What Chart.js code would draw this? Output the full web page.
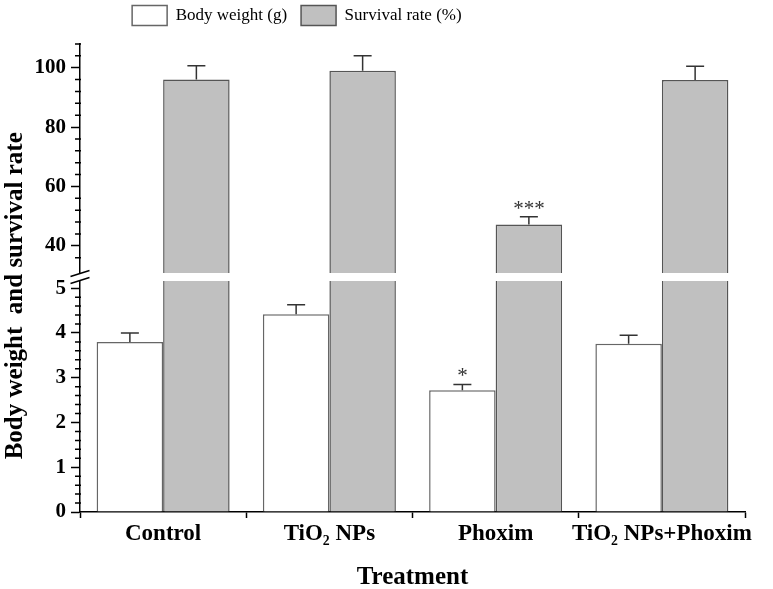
<!DOCTYPE html>
<html><head><meta charset="utf-8">
<script src="https://cdn.jsdelivr.net/npm/chart.js@4/dist/chart.umd.min.js"></script>
<style>html,body{margin:0;padding:0;background:#fff}#wrap{width:773px;height:589px;position:relative}</style>
</head><body><div id="wrap"><canvas id="c"></canvas></div>
<script>
// ---- data ----
const categories = ['Control', 'TiO\u2082 NPs', 'Phoxim', 'TiO\u2082 NPs+Phoxim'];
const seriesNames = ['Body weight (g)', 'Survival rate (%)'];
const bodyWeight = [3.80, 4.42, 2.72, 3.76];
const bodyWeightErr = [0.20, 0.21, 0.13, 0.19];
const bodyWeightSig = ['', '', '*', ''];
const survivalRate = [96.0, 99.0, 47.2, 95.9];
const survivalRateErr = [4.7, 5.0, 2.6, 4.6];
const survivalRateSig = ['', '', '***', ''];
const lowerTickLabels = [0, 1, 2, 3, 4, 5];
const upperTickLabels = [40, 60, 80, 100];
const yTitle = 'Body weight  and survival rate';
const xTitle = 'Treatment';

const FAM = "'Liberation Serif', 'Times New Roman', serif";
const isMajor = (arr, v) => arr.some(t => Math.abs(t - v) < 1e-6);
const onStep = (v, s) => Math.abs(v / s - Math.round(v / s)) < 1e-6;

// clip each dataset to its own (broken) y-axis segment
const splitClip = {
  id: 'splitClip',
  beforeDatasetDraw(chart, args) {
    const ys = chart.scales[args.meta.yAxisID];
    const a = chart.chartArea, ctx = chart.ctx, gap = 4;
    const top = ys.id === 'yLow' ? ys.top + gap : ys.top - 20;
    const bottom = ys.id === 'yHigh' ? ys.bottom - gap : ys.bottom + 20;
    ctx.save();
    ctx.beginPath();
    ctx.rect(a.left - 20, top, a.right - a.left + 40, bottom - top);
    ctx.clip();
  },
  afterDatasetDraw(chart) { chart.ctx.restore(); }
};

const extras = {
  id: 'extras',
  afterLayout(chart) {
    const lg = chart.legend;
    if (lg) {
      const w = lg.right - lg.left; lg.right = lg.left + w * 0.797;
      lg.top -= 8.5; lg.bottom -= 8.5;
    }
  },
  afterDatasetsDraw(chart) {
    const ctx = chart.ctx;
    chart.data.datasets.forEach((ds, i) => {
      if (!ds.errors) return;
      const meta = chart.getDatasetMeta(i);
      const ys = chart.scales[ds.yAxisID];
      meta.data.forEach((bar, j) => {
        const v = ds.data[j], e = ds.errors[j];
        const yTop = ys.getPixelForValue(v + e), yBar = ys.getPixelForValue(v);
        ctx.save();
        ctx.strokeStyle = '#333'; ctx.lineWidth = 1.5;
        ctx.beginPath();
        ctx.moveTo(bar.x, yBar); ctx.lineTo(bar.x, yTop);
        ctx.moveTo(bar.x - 9, yTop); ctx.lineTo(bar.x + 9, yTop);
        ctx.stroke();
        if (ds.sig && ds.sig[j]) {
          ctx.fillStyle = '#333';
          ctx.font = '21px ' + FAM;
          ctx.textAlign = 'center'; ctx.textBaseline = 'alphabetic';
          ctx.fillText(ds.sig[j], bar.x, yTop - 2);
        }
        ctx.restore();
      });
    });
  },
  afterDraw(chart) {
    const ctx = chart.ctx, a = chart.chartArea;
    const x = a.left;
    // minor ticks
    [['yLow', lowerTickLabels], ['yHigh', upperTickLabels]].forEach(([id, majors]) => {
      const s = chart.scales[id];
      ctx.save(); ctx.strokeStyle = '#000'; ctx.lineWidth = 1.5;
      ctx.beginPath();
      s.ticks.forEach(t => {
        if (isMajor(majors, t.value)) return;
        const y = s.getPixelForValue(t.value);
        ctx.moveTo(x - 5, y); ctx.lineTo(x + 1, y);
      });
      ctx.stroke(); ctx.restore();
    });
    // axis break marks
    const yb = chart.scales.yLow.top;
    ctx.save();
    ctx.fillStyle = '#fff';
    ctx.fillRect(x - 2, yb - 3, 4, 6);
    ctx.strokeStyle = '#000'; ctx.lineWidth = 1.5;
    ctx.beginPath();
    ctx.moveTo(x - 9.5, yb - 0.5); ctx.lineTo(x + 9.5, yb - 6.5);
    ctx.moveTo(x - 9.5, yb + 6.5); ctx.lineTo(x + 9.5, yb + 0.5);
    ctx.stroke();
    ctx.restore();
    // y-axis title
    ctx.save();
    ctx.translate(16, a.top + (a.bottom - a.top) * 0.538);
    ctx.rotate(-Math.PI / 2);
    ctx.font = 'bold 25px ' + FAM;
    ctx.fillStyle = '#000'; ctx.textAlign = 'center'; ctx.textBaseline = 'middle';
    ctx.fillText(yTitle, 0, 0);
    ctx.restore();
  }
};

const yCommon = (majors, step, minKeep, maxKeep) => ({
  type: 'linear', position: 'left', stack: 'y',
  ticks: {
    stepSize: step, autoSkip: false, color: '#000', padding: 5,
    font: { family: FAM, size: 21, weight: 'bold' },
    callback: v => isMajor(majors, v) ? String(v) : ''
  },
  afterBuildTicks: s => { s.ticks = s.ticks.filter(t => onStep(t.value, step) && t.value >= minKeep - 1e-6 && t.value <= maxKeep + 1e-6); },
  grid: {
    drawOnChartArea: false, tickLength: 9, tickWidth: 1.5,
    tickColor: c => (c.tick && isMajor(majors, c.tick.value)) ? '#000' : 'rgba(0,0,0,0)'
  },
  border: { color: '#000', width: 1.5 },
  afterFit: s => { s.width = 80; }
});

const yLow = Object.assign(yCommon(lowerTickLabels, 0.2, 0, 5), { min: 0, max: 5.25, stackWeight: 235 });
const yHigh = Object.assign(yCommon(upperTickLabels, 4, 32, 108), { min: 29.5, max: 108, stackWeight: 233 });

new Chart(document.getElementById('c'), {
  type: 'bar',
  data: {
    labels: categories,
    datasets: [
      { label: seriesNames[0], data: bodyWeight, yAxisID: 'yLow', stack: 'bw',
        backgroundColor: '#ffffff', borderColor: '#666', borderWidth: 1.5,
        errors: bodyWeightErr, sig: bodyWeightSig },
      { label: seriesNames[1], data: survivalRate, yAxisID: 'yHigh', stack: 'sr',
        backgroundColor: '#c0c0c0', borderColor: '#555', borderWidth: 1.5,
        errors: survivalRateErr, sig: survivalRateSig },
      { label: seriesNames[1] + ' ', data: survivalRate, yAxisID: 'yLow', stack: 'sr',
        backgroundColor: '#c0c0c0', borderColor: '#555', borderWidth: 1.5 }
    ]
  },
  options: {
    responsive: true, maintainAspectRatio: false, animation: false,
    datasets: { bar: { categoryPercentage: 0.8, barPercentage: 1.0 } },
    layout: { padding: { top: 0, left: 0, right: 28, bottom: 0 } },
    plugins: {
      tooltip: { enabled: false },
      legend: {
        position: 'top',
        labels: {
          filter: item => item.datasetIndex < 2,
          boxWidth: 35, boxHeight: 20, padding: 14, color: '#000',
          font: { family: FAM, size: 17 }
        }
      }
    },
    scales: {
      x: {
        grid: { display: true, drawOnChartArea: false, offset: true, tickLength: 6, tickColor: '#000', tickWidth: 1.5 },
        border: { color: '#000', width: 1.5 },
        ticks: { color: '#000', font: { family: FAM, size: 23, weight: 'bold' }, padding: 2, maxRotation: 0, autoSkip: false },
        title: { display: true, text: xTitle, color: '#000', font: { family: FAM, size: 25, weight: 'bold' }, padding: { top: 0, bottom: -4 } },
        afterFit: s => { s.height = 77; }
      },
      yLow: yLow,
      yHigh: yHigh
    }
  },
  plugins: [splitClip, extras]
});
</script>
</body></html>
